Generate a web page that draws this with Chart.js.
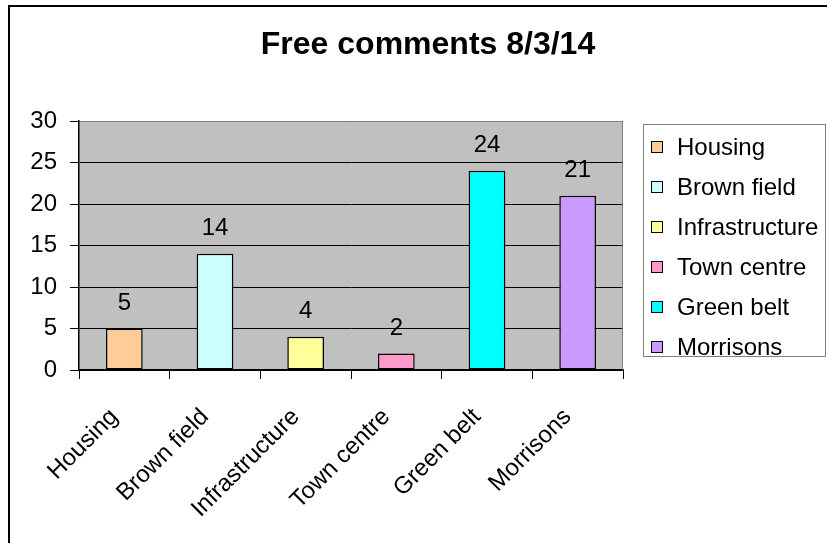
<!DOCTYPE html>
<html>
<head>
<meta charset="utf-8">
<script src="https://cdn.jsdelivr.net/npm/chart.js@4.4.1/dist/chart.umd.min.js"></script>
<style>
  body { margin: 0; background: #fff; }
  #wrap { width: 827px; height: 543px; }
</style>
</head>
<body>
<div id="wrap"><canvas id="commentsChart" width="827" height="543"></canvas></div>
<script>
const chartTitle = "Free comments 8/3/14";
const categories = ["Housing", "Brown field", "Infrastructure", "Town centre", "Green belt", "Morrisons"];
const comments = [5, 14, 4, 2, 24, 21];
const barColours = ["#FFCC99", "#CCFFFF", "#FFFF99", "#FF99CC", "#00FFFF", "#CC99FF"];
const yMax = 30;
const yStep = 5;

const fontFamily = '"Liberation Sans", Arial, sans-serif';
Chart.defaults.font.family = fontFamily;
Chart.defaults.color = "#000";

// white page, frame lines, title and grey plot area
const backdrop = {
  id: "backdrop",
  beforeDraw(chart) {
    const ctx = chart.ctx;
    const a = chart.chartArea;
    ctx.save();
    ctx.fillStyle = "#fff";
    ctx.fillRect(0, 0, chart.width, chart.height);
    ctx.strokeStyle = "#000";
    ctx.lineWidth = 2;
    ctx.beginPath();
    ctx.moveTo(9, chart.height + 5);
    ctx.lineTo(9, 6);
    ctx.lineTo(chart.width + 5, 6);
    ctx.stroke();
    ctx.fillStyle = "#C0C0C0";
    ctx.fillRect(a.left, a.top, a.right - a.left, a.bottom - a.top);
    ctx.fillStyle = "#000";
    ctx.font = "bold 32px " + fontFamily;
    ctx.textAlign = "center";
    ctx.textBaseline = "middle";
    ctx.fillText(chartTitle, 428, 45);
    ctx.restore();
  },
  afterDraw(chart) {
    const ctx = chart.ctx;
    const a = chart.chartArea;
    ctx.save();
    ctx.strokeStyle = "#808080";
    ctx.lineWidth = 1;
    ctx.beginPath();
    ctx.moveTo(a.left + 1, a.top + 0.5);
    ctx.lineTo(a.right - 0.5, a.top + 0.5);
    ctx.lineTo(a.right - 0.5, a.bottom);
    ctx.stroke();
    ctx.restore();
  }
};

// value above every bar
const valueLabels = {
  id: "valueLabels",
  afterDatasetsDraw(chart) {
    const ctx = chart.ctx;
    const meta = chart.getDatasetMeta(0);
    ctx.save();
    ctx.font = "24px " + fontFamily;
    ctx.fillStyle = "#000";
    ctx.textAlign = "center";
    ctx.textBaseline = "middle";
    meta.data.forEach((bar, i) => {
      ctx.fillText(comments[i], bar.x, bar.y - 25);
    });
    ctx.restore();
  }
};

// boxed legend on the right, one entry per category
const sideLegend = {
  id: "sideLegend",
  afterDraw(chart) {
    const ctx = chart.ctx;
    ctx.save();
    ctx.strokeStyle = "#808080";
    ctx.lineWidth = 1;
    ctx.strokeRect(643.5, 124.5, 182, 232);
    ctx.font = "24px " + fontFamily;
    ctx.textBaseline = "middle";
    ctx.textAlign = "left";
    categories.forEach((name, i) => {
      const y = 147 + i * 40;
      ctx.fillStyle = barColours[i];
      ctx.fillRect(651, y - 6, 12, 12);
      ctx.strokeStyle = "#000";
      ctx.strokeRect(651.5, y - 5.5, 11, 11);
      ctx.fillStyle = "#000";
      ctx.fillText(name, 677, y + 1);
    });
    ctx.restore();
  }
};

new Chart(document.getElementById("commentsChart"), {
  type: "bar",
  data: {
    labels: categories,
    datasets: [{
      label: chartTitle,
      data: comments,
      backgroundColor: barColours,
      borderColor: "#000",
      borderWidth: 1.5,
      borderSkipped: false,
      barPercentage: 0.405,
      categoryPercentage: 1
    }]
  },
  options: {
    responsive: false,
    animation: false,
    devicePixelRatio: 1,
    layout: { padding: { left: 0, right: 204, top: 121, bottom: 0 } },
    plugins: {
      legend: { display: false },
      tooltip: { enabled: false },
      title: { display: false }
    },
    scales: {
      x: {
        afterFit(scale) { scale.height = 173; },
        grid: { drawOnChartArea: false, drawTicks: true, tickLength: 9, color: "#000", offset: true },
        border: { color: "#000", width: 1.5 },
        ticks: {
          autoSkip: false,
          minRotation: 45,
          maxRotation: 45,
          padding: 24,
          labelOffset: -10,
          font: { size: 24 },
          color: "#000"
        }
      },
      y: {
        min: 0,
        max: yMax,
        afterFit(scale) { scale.width = 79; },
        grid: { color: "#000", lineWidth: 1, tickLength: 9, tickColor: "#000" },
        border: { color: "#000", width: 1.5 },
        ticks: {
          stepSize: yStep,
          padding: 13,
          font: { size: 24 },
          color: "#000"
        }
      }
    }
  },
  plugins: [backdrop, valueLabels, sideLegend]
});
</script>
</body>
</html>
